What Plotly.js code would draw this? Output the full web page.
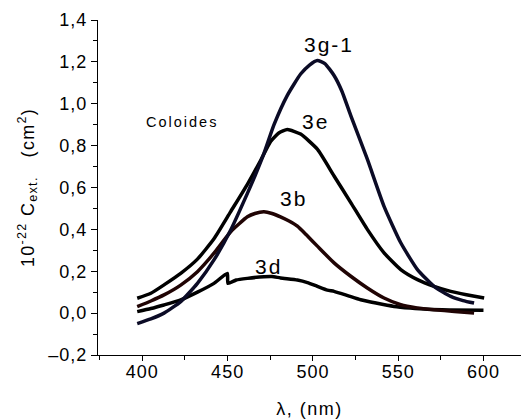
<!DOCTYPE html>
<html>
<head>
<meta charset="utf-8">
<script src="https://cdn.plot.ly/plotly-3.0.1.min.js"></script>
<style>
html,body{margin:0;padding:0;background:#fff;}
#chart{width:521px;height:419px;}
#chart .xtick text, #chart .ytick text{letter-spacing:1px;}
#chart .annotation-text{letter-spacing:2px;}
#chart .xtitle{letter-spacing:1.5px;}
#chart .ytitle{letter-spacing:1.3px;}
</style>
</head>
<body>
<div id="chart"></div>
<script>
// Series (wavelength nm, 10^-22 Cext cm^2)
const x3g1 = [397,405,412.7,422.5,432.3,442,451.8,461.6,466,471.3,477.2,485,492.8,498,502.6,507,512.4,517,522.2,531.9,541.7,551.5,561.3,571,580.8,588,594.5];
const y3g1 = [-0.05,-0.028,0.0,0.055,0.142,0.254,0.397,0.572,0.655,0.763,0.90,1.04,1.142,1.185,1.207,1.192,1.135,1.06,0.943,0.735,0.51,0.336,0.208,0.128,0.08,0.06,0.048];

const x3e = [397,405,412.7,422.5,432.3,442,451.8,461.6,469.4,475.2,480,485,492.8,502.6,512.4,522.2,531.9,541.7,551.5,561.3,571,580.8,590,600.4];
const y3e = [0.071,0.095,0.135,0.19,0.258,0.355,0.485,0.615,0.73,0.82,0.86,0.877,0.855,0.783,0.655,0.528,0.40,0.288,0.208,0.16,0.128,0.104,0.088,0.072];

const x3b = [397,405,412.7,422.5,432.3,442,451.8,461.6,466,471.3,476,481,486,490.9,496,502.6,512.4,522.2,531.9,541.7,551.5,561,571,583,594.5];
const y3b = [0.031,0.058,0.087,0.134,0.198,0.286,0.389,0.46,0.476,0.484,0.476,0.46,0.44,0.415,0.375,0.32,0.24,0.176,0.12,0.072,0.04,0.025,0.016,0.008,0.0];

const x3d = [397,405,412.7,422.5,432.3,442,449.8,450.2,455,461.6,471.3,476,481,490.9,496.8,502.6,508.5,512.4,520,528,537,547.6,557,567,580,600];
const y3d = [0.007,0.022,0.039,0.063,0.10,0.142,0.19,0.142,0.158,0.166,0.174,0.175,0.168,0.158,0.146,0.128,0.11,0.104,0.085,0.064,0.048,0.032,0.024,0.018,0.015,0.014];

const yTickVals = [-0.2,0,0.2,0.4,0.6,0.8,1.0,1.2,1.4];
const yTickText = ["\u20130,2","0,0","0,2","0,4","0,6","0,8","1,0","1,2","1,4"];
const xTickVals = [400,450,500,550,600];
const xTickText = ["400","450","500","550","600"];

const labels = ["3g-1","3e","3b","3d"];
const labelX = [509.4,501.6,488.4,474.1];
const labelY = [1.283,0.914,0.548,0.222];

const FONT = "Liberation Sans, Arial, sans-serif";

function tr(x,y,color){
  return {x:x,y:y,type:"scatter",mode:"lines",line:{color:color,width:3.5,shape:"spline",smoothing:0.5},hoverinfo:"skip",showlegend:false};
}
const data = [
  tr(x3d,y3d,"#000000"),
  tr(x3b,y3b,"#200404"),
  tr(x3e,y3e,"#000000"),
  tr(x3g1,y3g1,"#0b0b26")
];

const annotations = labels.map((t,i)=>({x:labelX[i],y:labelY[i],xref:"x",yref:"y",xanchor:"center",yanchor:"middle",text:t,showarrow:false,font:{family:FONT,size:21,color:"#000"}}));
annotations.push({x:(181.7-97.5)/423,y:1-(122-20)/335,xref:"paper",yref:"paper",xanchor:"center",yanchor:"middle",text:"Coloides",showarrow:false,font:{family:FONT,size:14.5,color:"#000"}});

const layout = {
  width:521,height:419,
  margin:{l:97.5,r:0,t:20,b:64},
  paper_bgcolor:"#fff",plot_bgcolor:"#fff",
  font:{family:FONT,color:"#000"},
  xaxis:{
    range:[374,622],showgrid:false,zeroline:false,showline:true,linecolor:"#000",linewidth:1,
    ticks:"outside",ticklen:5,tickwidth:1,tickcolor:"#000",
    tickvals:xTickVals,ticktext:xTickText,tickfont:{family:FONT,size:18,color:"#000"},
    minor:{dtick:25,tick0:0,ticks:"outside",ticklen:4,tickwidth:1,tickcolor:"#000"},
    title:{text:"\u03bb, (nm)",font:{family:FONT,size:18,color:"#000"},standoff:31}
  },
  yaxis:{
    range:[-0.2,1.4],showgrid:false,zeroline:false,showline:true,linecolor:"#000",linewidth:1,
    ticks:"outside",ticklen:6,tickwidth:1,tickcolor:"#000",
    tickvals:yTickVals,ticktext:yTickText,tickfont:{family:FONT,size:18,color:"#000"},
    minor:{dtick:0.1,tick0:0,ticks:"outside",ticklen:4,tickwidth:1,tickcolor:"#000"},
    title:{text:"10<sup>-22</sup> C<sub>ext.</sub>\u00a0\u00a0\u00a0(cm<sup>2</sup>)",font:{family:FONT,size:18,color:"#000"},standoff:13}
  },
  annotations:annotations
};
Plotly.newPlot("chart",data,layout,{displayModeBar:false,staticPlot:true}).then(function(gd){
  // nudge x tick labels up to sit closer to the axis, as in the reference
  gd.querySelectorAll("g.xtick").forEach(function(g){ g.setAttribute("transform","translate(0,-5)"); });
});
</script>
</body>
</html>
